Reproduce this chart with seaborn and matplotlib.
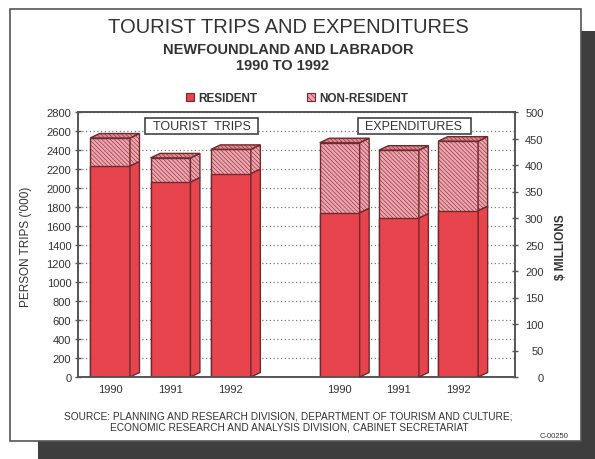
import numpy as np
import pandas as pd
import matplotlib
matplotlib.use("Agg")
import matplotlib.pyplot as plt
from matplotlib.patches import Polygon, Rectangle, Patch
import seaborn as sns

# ---- data -------------------------------------------------------------
years = ["1990", "1991", "1992"]
trips_resident = [2230, 2060, 2150]       # person trips ('000)
trips_nonresident = [295, 255, 255]
spend_resident = [310, 300, 314]          # $ millions
spend_nonresident = [132, 128, 131]

trip_ticks = list(range(0, 2801, 200))
spend_ticks = list(range(0, 501, 50))
legend_labels = ["RESIDENT", "NON-RESIDENT"]

# ---- style ------------------------------------------------------------
RED = "#e8444e"
PINK = "#f2a4ae"
PINK_TOP = "#e38994"
EDGE = "#6e2a2e"
AXC = "#555555"
TXT = "#333333"
HATCH = "\\" * 8

sns.set_style("white")
plt.rcParams["font.family"] = ["Liberation Sans", "DejaVu Sans"]
plt.rcParams["hatch.linewidth"] = 0.4

W, H = 595, 460
fig = plt.figure(figsize=(W / 100, H / 100), dpi=100)
fig.patch.set_facecolor("white")

# drop shadow and white card
fig.add_artist(Rectangle((38 / W, 0), 1 - 38 / W, (H - 32) / H,
                         transform=fig.transFigure, facecolor="#3e3e3e",
                         edgecolor="none", zorder=0))
fig.add_artist(Rectangle((10 / W, (H - 442) / H), 571 / W, 432 / H,
                         transform=fig.transFigure, facecolor="white",
                         edgecolor="#555555", lw=1.2, zorder=0.1))

AX_W_PX, AX_H_PX = 437, 265
ax = fig.add_axes([78 / W, (H - 378) / H, AX_W_PX / W, AX_H_PX / H])
ax.set_zorder(1)
ax.patch.set_alpha(0)
ax2 = ax.twinx()
ax2.set_zorder(2)

# bar layout
left_x = np.arange(3, dtype=float)
right_x = 3.8 + 0.98 * np.arange(3)
BAR_W = 0.66
XLIM = (-0.53, 6.7)
DX_PX, DY_PX = 9.5, 4.5

trips = pd.DataFrame({"pos": left_x,
                      "resident": trips_resident,
                      "total": np.add(trips_resident, trips_nonresident)})
spend = pd.DataFrame({"pos": right_x,
                      "resident": spend_resident,
                      "total": np.add(spend_resident, spend_nonresident)})


def stacked_bars(axis, df, ylim):
    w = BAR_W / np.diff(df["pos"]).min()
    sns.barplot(data=df, x="pos", y="total", native_scale=True, width=w,
                color=PINK, saturation=1, hatch=HATCH, edgecolor=EDGE,
                linewidth=1, errorbar=None, ax=axis, zorder=2)
    sns.barplot(data=df, x="pos", y="resident", native_scale=True, width=w,
                color=RED, saturation=1, edgecolor=EDGE,
                linewidth=1, errorbar=None, ax=axis, zorder=2)
    # depth faces (side and top) of each bar
    dx = DX_PX / (AX_W_PX / (XLIM[1] - XLIM[0]))
    dy = DY_PX / (AX_H_PX / (ylim[1] - ylim[0]))
    for x, r, t in zip(df["pos"], df["resident"], df["total"]):
        xl, xr = x - BAR_W / 2, x + BAR_W / 2
        axis.add_patch(Polygon([(xr, 0), (xr + dx, dy), (xr + dx, r + dy), (xr, r)],
                               facecolor=RED, edgecolor=EDGE, lw=1, zorder=3))
        axis.add_patch(Polygon([(xr, r), (xr + dx, r + dy), (xr + dx, t + dy), (xr, t)],
                               facecolor=PINK, hatch=HATCH, edgecolor=EDGE,
                               lw=1, zorder=3))
        axis.add_patch(Polygon([(xl, t), (xr, t), (xr + dx, t + dy), (xl + dx, t + dy)],
                               facecolor=PINK_TOP, hatch=HATCH, edgecolor=EDGE,
                               lw=1, zorder=3))


stacked_bars(ax, trips, (0, 2800))
stacked_bars(ax2, spend, (0, 500))

# axes, ticks, grid
ax.set_xlim(*XLIM)
ax.set_ylim(0, 2800)
ax2.set_ylim(0, 500)
ax.set_yticks(trip_ticks)
ax2.set_yticks(spend_ticks)
ax.set_xticks(np.concatenate([left_x, right_x]))
ax.set_xticklabels(years * 2)
for a in (ax, ax2):
    a.set_xlabel("")
    a.set_ylabel("")
    for s in a.spines.values():
        s.set_color(AXC)
        s.set_linewidth(1.2)
ax.set_axisbelow(True)
ax.yaxis.grid(True, linestyle=(0, (1, 2)), color="#7a7a7a", lw=0.9)
ax.xaxis.grid(False)
ax2.grid(False)
ax.tick_params(axis="x", length=0, pad=5, labelsize=8, labelcolor=TXT)
ax.tick_params(axis="y", direction="inout", length=5, width=1, color=AXC,
               pad=2.3, labelsize=8, labelcolor=TXT)
ax2.tick_params(axis="y", direction="inout", length=5, width=1, color=AXC,
                pad=18, labelsize=8, labelcolor=TXT)
for lab in ax2.get_yticklabels():
    lab.set_horizontalalignment("right")

# panel captions
cy = (378 - 127) / AX_H_PX
bw, bh = 113 / AX_W_PX, 16 / AX_H_PX
for cx, label in [((201.5 - 78) / AX_W_PX, "TOURIST  TRIPS"),
                  ((414 - 78) / AX_W_PX, "EXPENDITURES")]:
    ax2.add_patch(Rectangle((cx - bw / 2, cy - bh / 2), bw, bh,
                            transform=ax2.transAxes, facecolor="white",
                            edgecolor="#444444", lw=1.2, zorder=5, clip_on=False))
    ax2.text(cx, cy, label, transform=ax2.transAxes, ha="center", va="center",
             fontsize=9, color=TXT, zorder=6)

# titles
fig.text(288 / W, 1 - 33 / H, "TOURIST TRIPS AND EXPENDITURES", ha="center",
         va="baseline", fontsize=14.5, color=TXT)
fig.text(288 / W, 1 - 53.5 / H, "NEWFOUNDLAND AND LABRADOR", ha="center",
         va="baseline", fontsize=10.5, fontweight="bold", color=TXT)
fig.text(283 / W, 1 - 70.5 / H, "1990 TO 1992", ha="center",
         va="baseline", fontsize=10.5, fontweight="bold", color=TXT)

# legend
handles = [Patch(facecolor=RED, edgecolor=EDGE, lw=0.8),
           Patch(facecolor=PINK, edgecolor=EDGE, hatch="\\" * 6, lw=0.8)]
fig.legend(handles, legend_labels, ncol=2, loc="center",
           bbox_to_anchor=(297 / W, 1 - 99 / H), frameon=False,
           prop={"size": 8.5, "weight": "bold"}, handlelength=0.7,
           handleheight=0.7, handletextpad=0.35, columnspacing=4.2,
           labelcolor=TXT)

# axis titles
fig.text(26 / W, 1 - 247 / H, "PERSON TRIPS ('000)", rotation=90,
         ha="center", va="center", fontsize=8.5, color=TXT)
fig.text(561 / W, 1 - 247 / H, "$ MILLIONS", rotation=90,
         ha="center", va="center", fontsize=8.5, fontweight="bold", color=TXT)

# source notes
fig.text(288 / W, 1 - 420 / H,
         "SOURCE: PLANNING AND RESEARCH DIVISION, DEPARTMENT OF TOURISM AND CULTURE;",
         ha="center", va="baseline", fontsize=7.3, color=TXT)
fig.text(289 / W, 1 - 430.5 / H,
         "ECONOMIC RESEARCH AND ANALYSIS DIVISION, CABINET SECRETARIAT",
         ha="center", va="baseline", fontsize=7.3, color=TXT)
fig.text(568 / W, 1 - 438 / H, "C-00250", ha="right", va="baseline",
         fontsize=5.5, color=TXT)

fig.savefig("out.png", dpi=100)
